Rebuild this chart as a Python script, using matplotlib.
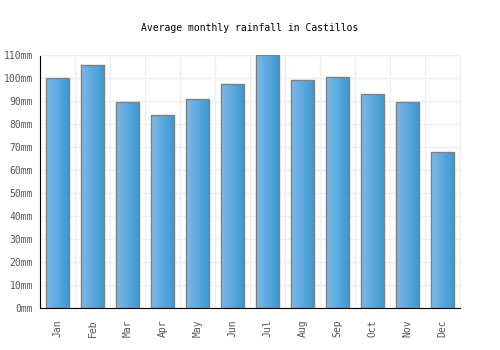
import matplotlib
matplotlib.use("Agg")
import matplotlib.pyplot as plt
import numpy as np
from matplotlib.colors import LinearSegmentedColormap

months = ["Jan", "Feb", "Mar", "Apr", "May", "Jun", "Jul", "Aug", "Sep", "Oct", "Nov", "Dec"]
rain = [100, 105.5, 89.5, 84, 91, 97.5, 110, 99, 100.5, 93, 89.5, 68]
yticks = list(range(0, 111, 10))

plt.rcParams['font.family'] = ['DejaVu Sans Mono']
fig = plt.figure(figsize=(5, 3.5), dpi=100)
ax = fig.add_axes([0.08, 0.12, 0.84, 0.723])

x = np.arange(len(months))
bars = ax.bar(x, rain, width=0.68, facecolor='none', edgecolor='#808080', linewidth=1, zorder=3)
cmap = LinearSegmentedColormap.from_list('g', ['#7db9ea', '#3a97d0'])
grad = np.linspace(0, 1, 64).reshape(1, -1)
for b in bars:
    x0, y0 = b.get_x(), b.get_y()
    w, h = b.get_width(), b.get_height()
    im = ax.imshow(grad, extent=[x0, x0 + w, y0, y0 + h], aspect='auto', cmap=cmap, zorder=2)
    im.set_clip_path(b)

ax.set_xlim(-0.5, len(months) - 0.5)
ax.set_ylim(0, 110)
ax.set_xticks(x)
ax.set_xticklabels(months, rotation=90, fontsize=7, color='#555555')
ax.set_yticks(yticks)
ax.set_yticklabels([f"{v}mm" for v in yticks], fontsize=7, color='#555555')
ax.set_xticks(np.arange(-0.5, len(months), 1), minor=True)
ax.grid(True, which='minor', axis='x', color='#eeeeee', linewidth=1, zorder=0)
ax.grid(True, which='major', axis='y', color='#eeeeee', linewidth=1, zorder=0)
ax.tick_params(which='both', length=0)
ax.tick_params(axis='x', pad=8)
ax.tick_params(axis='y', pad=5)
for s in ['top', 'right']:
    ax.spines[s].set_color('#eeeeee')
ax.spines['left'].set_color('black')
ax.spines['bottom'].set_color('black')
ax.set_axisbelow(True)
fig.text(0.5, 1 - 28 / 350, "Average monthly rainfall in Castillos", fontsize=7, ha='center', va='center')
fig.savefig("out.png", dpi=100)
